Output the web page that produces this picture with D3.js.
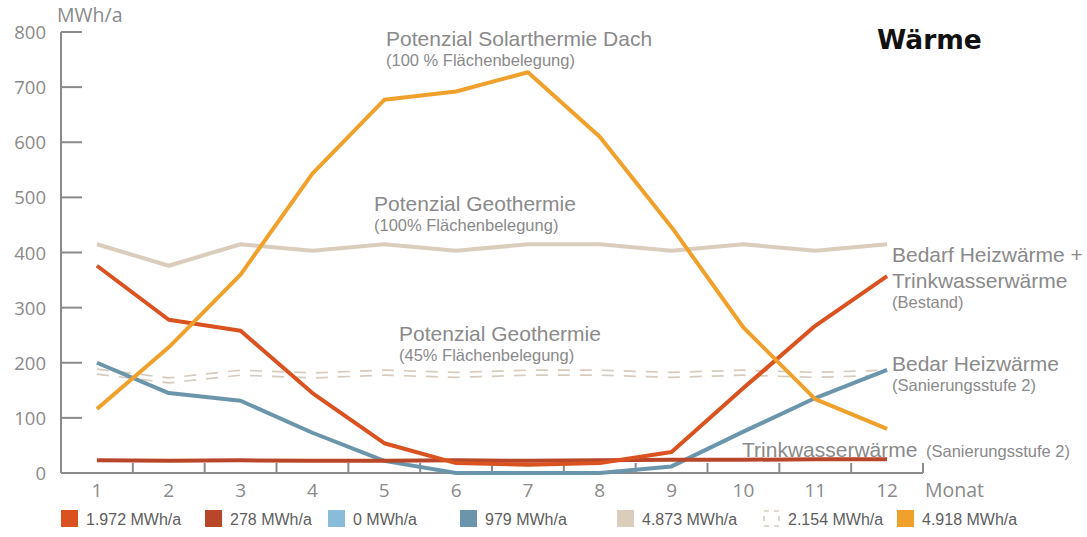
<!DOCTYPE html>
<html>
<head>
<meta charset="utf-8">
<script src="https://cdn.jsdelivr.net/npm/d3@7"></script>
<style>
  html, body { margin: 0; padding: 0; background: #fff; }
  svg { display: block; }
</style>
</head>
<body>
<svg id="chart" width="1087" height="537"></svg>
<script>
// Monthly heat demand and potentials (MWh/a)
const months = [1, 2, 3, 4, 5, 6, 7, 8, 9, 10, 11, 12];
const yTicks = [0, 100, 200, 300, 400, 500, 600, 700, 800];

const heizBestand   = [376, 278, 258, 145, 54, 18, 15, 18, 38, 154, 267, 357];   // 1.972
const trinkwasser   = [23, 22, 23, 22, 22, 23, 22, 23, 24, 24, 25, 25];          // 278
const heizSaniert0  = [0, 0, 0, 0, 0, 0, 0, 0, 0, 0, 0, 0];                      // 0
const heizSaniert2  = [200, 145, 131, 73, 22, 0, 0, 0, 12, 75, 136, 187];        // 979
const geo100        = [415, 376, 415, 403, 415, 403, 415, 415, 403, 415, 403, 415]; // 4.873
const geo45         = [184, 168, 182, 177, 182, 178, 182, 182, 178, 182, 178, 182]; // 2.154
const solarDach     = [116, 228, 360, 543, 677, 692, 727, 610, 446, 264, 134, 80];  // 4.918

const legendLabels = ["1.972 MWh/a", "278 MWh/a", "0 MWh/a", "979 MWh/a", "4.873 MWh/a", "2.154 MWh/a", "4.918 MWh/a"];

const colors = {
  heizBestand: "#d9521f",
  trinkwasser: "#b8472a",
  heizSaniert0: "#88bcd8",
  heizSaniert2: "#6b95aa",
  geo100: "#dacdbc",
  geo45: "#d6cbbd",
  solarDach: "#f0a12b"
};

const svg = d3.select("#chart");
const grey = "#8a8a8a";
const sans = "'Liberation Sans', Arial, sans-serif";
const axisFont = "'Open Sans', 'Liberation Sans', sans-serif";

const x = d3.scaleBand().domain(months).range([61, 923]).padding(0);
const y = d3.scaleLinear().domain([0, 800]).range([473, 32]);
const cx = m => x(m) + x.bandwidth() / 2;

// Y axis: line plus inward ticks
const yAxis = svg.append("g");
yAxis.append("line")
  .attr("x1", 61).attr("x2", 61)
  .attr("y1", y(800)).attr("y2", y(0))
  .attr("stroke", grey).attr("stroke-width", 2);
yAxis.selectAll("line.tick").data(yTicks.filter(d => d > 0)).enter()
  .append("line").attr("class", "tick")
  .attr("x1", 61).attr("x2", 82)
  .attr("y1", d => y(d)).attr("y2", d => y(d))
  .attr("stroke", grey).attr("stroke-width", 2);
yAxis.selectAll("text").data(yTicks).enter().append("text")
  .attr("x", 46).attr("y", d => y(d) + 7)
  .attr("text-anchor", "end")
  .attr("font-family", axisFont).attr("font-size", 18.5)
  .attr("fill", grey)
  .text(d => d);
svg.append("text").attr("x", 57).attr("y", 22)
  .attr("font-family", axisFont).attr("font-size", 19.5).attr("fill", grey)
  .text("MWh/a");

// X axis: baseline with upward ticks at month boundaries
const xAxis = svg.append("g");
xAxis.append("line")
  .attr("x1", 61).attr("x2", x(12) + x.bandwidth())
  .attr("y1", y(0)).attr("y2", y(0))
  .attr("stroke", grey).attr("stroke-width", 2);
xAxis.selectAll("line.tick").data(months).enter()
  .append("line").attr("class", "tick")
  .attr("x1", d => x(d) + x.bandwidth()).attr("x2", d => x(d) + x.bandwidth())
  .attr("y1", y(0)).attr("y2", y(0) - 10)
  .attr("stroke", grey).attr("stroke-width", 2);
xAxis.selectAll("text").data(months).enter().append("text")
  .attr("x", d => cx(d)).attr("y", 497)
  .attr("text-anchor", "middle")
  .attr("font-family", axisFont).attr("font-size", 19)
  .attr("fill", grey)
  .text(d => d);
svg.append("text").attr("x", 925).attr("y", 497)
  .attr("font-family", axisFont).attr("font-size", 19.5).attr("fill", grey)
  .text("Monat");

// Lines
const line = d3.line().x((d, i) => cx(months[i])).y(d => y(d));
const plot = svg.append("g").attr("fill", "none").attr("stroke-linejoin", "round");

plot.append("path").datum(geo100).attr("d", line)
  .attr("stroke", colors.geo100).attr("stroke-width", 4);

// 45 % geothermal potential: hollow dashed band (two thin dashed strokes)
[-2.5, 2.5].forEach(off => {
  plot.append("path").datum(geo45).attr("d", line)
    .attr("transform", `translate(0,${off})`)
    .attr("stroke", colors.geo45).attr("stroke-width", 1.7)
    .attr("stroke-dasharray", "12,10");
});

plot.append("path").datum(heizSaniert2).attr("d", line)
  .attr("stroke", colors.heizSaniert2).attr("stroke-width", 4);
plot.append("path").datum(trinkwasser).attr("d", line)
  .attr("stroke", colors.trinkwasser).attr("stroke-width", 4);
plot.append("path").datum(heizBestand).attr("d", line)
  .attr("stroke", colors.heizBestand).attr("stroke-width", 4);
plot.append("path").datum(solarDach).attr("d", line)
  .attr("stroke", colors.solarDach).attr("stroke-width", 4);

// Annotations
const big = 21, small = 16.5;
function label(xp, yp, txt, size) {
  svg.append("text").attr("x", xp).attr("y", yp)
    .attr("font-family", sans).attr("font-size", size)
    .attr("fill", grey).text(txt);
}
label(386, 46, "Potenzial Solarthermie Dach", big);
label(386, 66, "(100 % Flächenbelegung)", small);
label(374, 211, "Potenzial Geothermie", big);
label(374, 231, "(100% Flächenbelegung)", small);
label(399, 341, "Potenzial Geothermie", big);
label(399, 361, "(45% Flächenbelegung)", small);
label(892, 262, "Bedarf Heizwärme +", big);
label(892, 288, "Trinkwasserwärme", big);
label(892, 308, "(Bestand)", small);
label(892, 371, "Bedar Heizwärme", big);
label(892, 391, "(Sanierungsstufe 2)", small);
label(742, 457, "Trinkwasserwärme", big);
label(926, 457, "(Sanierungsstufe 2)", small);

svg.append("text").attr("x", 877).attr("y", 49)
  .attr("font-family", "'DejaVu Sans', sans-serif").attr("font-weight", "bold")
  .attr("font-size", 26.5).attr("fill", "#111").text("Wärme");

// Legend
const legendColors = [colors.heizBestand, colors.trinkwasser, colors.heizSaniert0,
  colors.heizSaniert2, colors.geo100, null, colors.solarDach];
const legendX = [61, 205, 328, 460, 617, 763, 897];
const lg = svg.append("g");
legendLabels.forEach((t, i) => {
  const g = lg.append("g").attr("transform", `translate(${legendX[i]},510)`);
  if (legendColors[i]) {
    g.append("rect").attr("width", 17).attr("height", 17).attr("fill", legendColors[i]);
  } else {
    g.append("rect").attr("x", 1).attr("y", 1).attr("width", 15).attr("height", 15)
      .attr("fill", "none").attr("stroke", colors.geo45).attr("stroke-width", 1.6)
      .attr("stroke-dasharray", "5,5");
  }
  g.append("text").attr("x", 25).attr("y", 15)
    .attr("font-family", sans).attr("font-size", 16).attr("fill", "#5e5e5e")
    .text(t);
});
</script>
</body>
</html>
